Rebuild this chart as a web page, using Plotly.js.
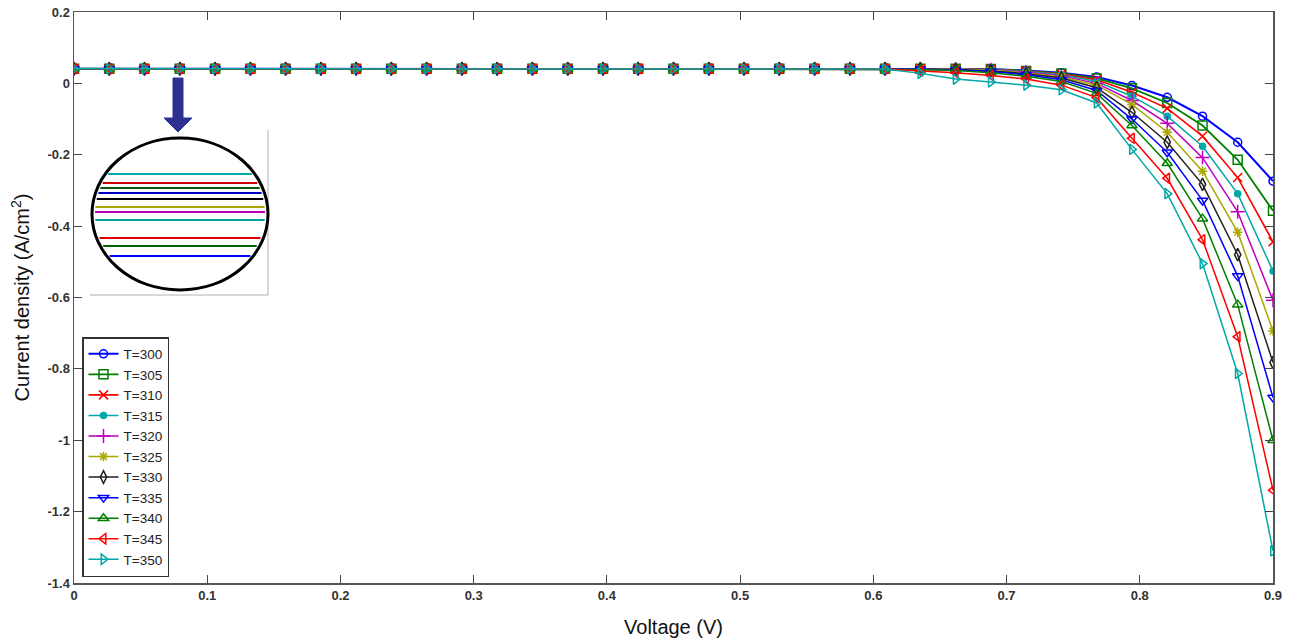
<!DOCTYPE html>
<html>
<head>
<meta charset="utf-8">
<script src="https://cdn.plot.ly/plotly-3.0.1.min.js"></script>
<style>
html,body{margin:0;padding:0;background:#fff;}
#chart{width:1289px;height:641px;}
</style>
</head>
<body>
<div id="chart"></div>
<script>
// ---------------- DATA ----------------
const voltage = [0, 0.0265, 0.0529, 0.0794, 0.1059, 0.1324, 0.1588, 0.1853, 0.2118, 0.2382,
  0.2647, 0.2912, 0.3176, 0.3441, 0.3706, 0.3971, 0.4235, 0.4500, 0.4765, 0.5029,
  0.5294, 0.5559, 0.5824, 0.6088, 0.6353, 0.6618, 0.6882, 0.7147, 0.7412, 0.7676,
  0.7941, 0.8206, 0.8471, 0.8735, 0.9];

const seriesNames = ["T=300","T=305","T=310","T=315","T=320","T=325","T=330","T=335","T=340","T=345","T=350"];

const J300 = [0.041,0.041,0.041,0.041,0.041,0.041,0.041,0.041,0.041,0.041,0.041,0.041,0.041,0.041,0.041,0.041,0.041,0.041,0.041,0.041,0.041,0.041,0.041,0.041,
  0.041, 0.041, 0.040, 0.036, 0.030, 0.018, -0.006, -0.039, -0.092, -0.165, -0.274];
const J305 = [0.041,0.041,0.041,0.041,0.041,0.041,0.041,0.041,0.041,0.041,0.041,0.041,0.041,0.041,0.041,0.041,0.041,0.041,0.041,0.041,0.041,0.041,0.041,0.041,
  0.041, 0.041, 0.040, 0.035, 0.028, 0.014, -0.014, -0.055, -0.118, -0.214, -0.357];
const J310 = [0.041,0.041,0.041,0.041,0.041,0.041,0.041,0.041,0.041,0.041,0.041,0.041,0.041,0.041,0.041,0.041,0.041,0.041,0.041,0.041,0.041,0.041,0.041,0.041,
  0.041, 0.041, 0.039, 0.034, 0.026, 0.010, -0.025, -0.070, -0.148, -0.264, -0.444];
const J315 = [0.041,0.041,0.041,0.041,0.041,0.041,0.041,0.041,0.041,0.041,0.041,0.041,0.041,0.041,0.041,0.041,0.041,0.041,0.041,0.041,0.041,0.041,0.041,0.041,
  0.041, 0.040, 0.039, 0.033, 0.024, 0.005, -0.036, -0.092, -0.176, -0.309, -0.526];
const J320 = [0.041,0.041,0.041,0.041,0.041,0.041,0.041,0.041,0.041,0.041,0.041,0.041,0.041,0.041,0.041,0.041,0.041,0.041,0.041,0.041,0.041,0.041,0.041,0.041,
  0.041, 0.040, 0.038, 0.031, 0.021, 0.000, -0.048, -0.112, -0.208, -0.360, -0.608];
const J325 = [0.041,0.041,0.041,0.041,0.041,0.041,0.041,0.041,0.041,0.041,0.041,0.041,0.041,0.041,0.041,0.041,0.041,0.041,0.041,0.041,0.041,0.041,0.041,0.041,
  0.041, 0.040, 0.037, 0.029, 0.018, -0.005, -0.059, -0.137, -0.246, -0.417, -0.694];
const J330 = [0.041,0.041,0.041,0.041,0.041,0.041,0.041,0.041,0.041,0.041,0.041,0.041,0.041,0.041,0.041,0.041,0.041,0.041,0.041,0.041,0.041,0.041,0.041,0.041,
  0.041, 0.039, 0.035, 0.027, 0.015, -0.012, -0.081, -0.165, -0.283, -0.480, -0.782];
const J335 = [0.041,0.041,0.041,0.041,0.041,0.041,0.041,0.041,0.041,0.041,0.041,0.041,0.041,0.041,0.041,0.041,0.041,0.041,0.041,0.041,0.041,0.041,0.041,0.041,
  0.040, 0.038, 0.033, 0.024, 0.010, -0.020, -0.100, -0.193, -0.328, -0.540, -0.880];
const J340 = [0.041,0.041,0.041,0.041,0.041,0.041,0.041,0.041,0.041,0.041,0.041,0.041,0.041,0.041,0.041,0.041,0.041,0.041,0.041,0.041,0.041,0.041,0.041,0.041,
  0.039, 0.036, 0.030, 0.020, 0.005, -0.028, -0.118, -0.224, -0.379, -0.620, -1.000];
const J345 = [0.041,0.041,0.041,0.041,0.041,0.041,0.041,0.041,0.041,0.041,0.041,0.041,0.041,0.041,0.041,0.041,0.041,0.041,0.041,0.041,0.041,0.041,0.041,0.041,
  0.035, 0.030, 0.022, 0.012, -0.005, -0.040, -0.154, -0.266, -0.438, -0.710, -1.140];
const J350 = [0.041,0.041,0.041,0.041,0.041,0.041,0.041,0.041,0.041,0.041,0.041,0.041,0.041,0.041,0.041,0.041,0.041,0.041,0.041,0.041,0.041,0.041,0.041,0.040,
  0.028, 0.012, 0.004, -0.005, -0.018, -0.055, -0.185, -0.309, -0.505, -0.813, -1.310];

const xTickVals = [0, 0.1, 0.2, 0.3, 0.4, 0.5, 0.6, 0.7, 0.8, 0.9];
const xTickText = ["0", "0.1", "0.2", "0.3", "0.4", "0.5", "0.6", "0.7", "0.8", "0.9"];
const yTickVals = [0.2, 0, -0.2, -0.4, -0.6, -0.8, -1, -1.2, -1.4];
const yTickText = ["0.2", "0", "-0.2", "-0.4", "-0.6", "-0.8", "-1", "-1.2", "-1.4"];

// ---------------- STYLE ----------------
const allJ = [J300, J305, J310, J315, J320, J325, J330, J335, J340, J345, J350];
const colors = ["#0000ff","#008000","#ff0000","#00a8a8","#bf00bf","#a8a800","#202020","#0000ff","#008000","#ff0000","#00a8a8"];
const symbols = ["circle-open","square-open","x-thin-open","circle","cross-thin-open","asterisk-open",
                 "diamond-tall-open","triangle-down-open","triangle-up-open","triangle-left-open","triangle-right-open"];
const msizes = [8, 9, 9, 6, 10, 8, 9, 9, 9, 9, 9];
const lwidths = [2, 1.8, 1.6, 1.5, 1.5, 1.5, 1.5, 1.5, 1.5, 1.5, 1.5];

const traces = allJ.map((J, i) => ({
  x: voltage, y: J, name: seriesNames[i], type: "scatter", mode: "lines+markers",
  line: {color: colors[i], width: lwidths[i]},
  marker: {symbol: symbols[i], size: msizes[i], color: colors[i], line: {color: colors[i], width: 1.5}}
}));

// plot area in pixels
const L = 74, R = 1273, T = 12, B = 583;
const px = v => (v - L) / (R - L);
const py = v => (B - v) / (B - T);

// inset (zoom circle)
const cx = 180, cy = 214, rx = 88, ry = 76;
const insetLineY = [256, 246, 238, 220, 212, 207, 199, 193, 188, 183, 174];
const insetColors = ["#0000ff","#006400","#e00000","#00a0a0","#bf00bf","#a8a800","#000000","#0000c0","#0a5a0a","#d00000","#00a8a8"];
const shapes = [];
shapes.push({type: "line", xref: "paper", yref: "paper", x0: px(268), x1: px(268), y0: py(130), y1: py(295),
             line: {color: "#b0b0b0", width: 1}});
shapes.push({type: "line", xref: "paper", yref: "paper", x0: px(90), x1: px(268), y0: py(295), y1: py(295),
             line: {color: "#b0b0b0", width: 1}});
shapes.push({type: "circle", xref: "paper", yref: "paper", x0: px(cx - rx), x1: px(cx + rx), y0: py(cy + ry), y1: py(cy - ry),
             line: {color: "#000", width: 3}, fillcolor: "#fff", layer: "above"});
insetLineY.forEach((yy, i) => {
  const d = (yy - cy) / ry;
  const hw = rx * Math.sqrt(Math.max(0, 1 - d * d)) - 3;
  shapes.push({type: "line", xref: "paper", yref: "paper", x0: px(cx - hw), x1: px(cx + hw), y0: py(yy), y1: py(yy),
               line: {color: insetColors[i], width: 2.2}, layer: "above"});
});
// arrow
const arrowPts = [[173,78],[183,78],[183,118],[192,118],[178,132],[164,118],[173,118]];
shapes.push({type: "path", xref: "paper", yref: "paper",
  path: "M" + arrowPts.map(p => px(p[0]).toFixed(5) + "," + py(p[1]).toFixed(5)).join(" L") + " Z",
  fillcolor: "#2e3192", line: {color: "#2e3192", width: 1}, layer: "above"});

const tickFont = {family: "Liberation Sans, Arial, sans-serif", size: 13, color: "#333", weight: "bold"};
const titleFont = {family: "Liberation Sans, Arial, sans-serif", size: 20, color: "#111"};

const layout = {
  width: 1289, height: 641,
  margin: {l: L, r: 1289 - R, t: T, b: 641 - B},
  paper_bgcolor: "#fff", plot_bgcolor: "#fff",
  showlegend: true,
  xaxis: {
    range: [0, 0.9], tickvals: xTickVals, ticktext: xTickText,
    ticks: "inside", ticklen: 8, tickwidth: 1.2, tickcolor: "#444",
    showline: true, linecolor: "#555", linewidth: 1.5, mirror: "ticks",
    showgrid: false, zeroline: false, tickfont: tickFont,
    title: {text: "Voltage (V)", font: titleFont, standoff: 18}, automargin: false
  },
  yaxis: {
    range: [-1.4, 0.2], tickvals: yTickVals, ticktext: yTickText,
    ticks: "inside", ticklen: 8, tickwidth: 1.2, tickcolor: "#444",
    showline: true, linecolor: "#555", linewidth: 1.5, mirror: "ticks",
    showgrid: false, zeroline: false, tickfont: tickFont,
    title: {text: "Current density (A/cm<sup>2</sup>)", font: titleFont, standoff: 12}, automargin: false
  },
  legend: {
    x: px(82), y: py(577), xanchor: "left", yanchor: "bottom",
    bgcolor: "#fff", bordercolor: "#333", borderwidth: 1.5,
    font: {family: "Liberation Sans, Arial, sans-serif", size: 13.5, color: "#222"},
    tracegroupgap: 0, itemwidth: 30
  },
  shapes: shapes
};

Plotly.newPlot("chart", traces, layout, {staticPlot: true, displayModeBar: false});
</script>
</body>
</html>
